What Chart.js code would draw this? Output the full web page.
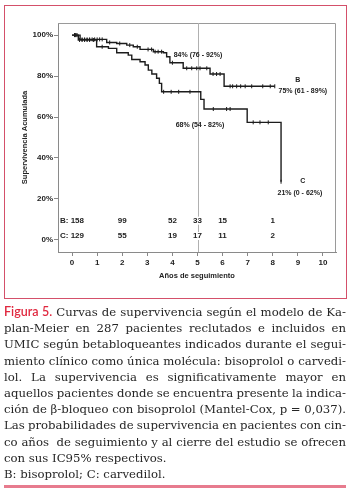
<!DOCTYPE html>
<html>
<head>
<meta charset="utf-8">
<script src="https://cdn.jsdelivr.net/npm/chart.js@4/dist/chart.umd.min.js"></script>
<style>
  body { margin: 0; background: #fff; width: 350px; height: 491px; position: relative; overflow: hidden; }
  #wrap { position: absolute; left: 0; top: 0; width: 350px; height: 300px; }
  #frame { position: absolute; left: 4px; top: 5px; width: 343px; height: 294px; box-sizing: border-box; border: 1.5px solid #d4506a; }
  #caption { position: absolute; left: 4px; top: 304px; width: 342px; font-family: "DejaVu Serif", serif; font-size: 11.7px; line-height: 16.2px; color: #262626; }
  #caption div { white-space: nowrap; }
  .fig { font-family: Lato, sans-serif; font-weight: 600; font-size: 12.5px; color: #e0283f; }
  #rule { position: absolute; left: 4px; top: 485px; width: 342px; height: 2.5px; background: #e77b8e; }
</style>
</head>
<body>
<div id="wrap"><canvas id="km"></canvas></div>
<div id="frame"></div>
<div id="caption">
  <div class="j"><span><span class="fig">Figura 5.</span> Curvas de supervivencia según el modelo de Ka-</span></div>
  <div class="j"><span>plan-Meier en 287 pacientes reclutados e incluidos en</span></div>
  <div class="j"><span>UMIC según betabloqueantes indicados durante el segui-</span></div>
  <div class="j"><span>miento clínico como única molécula: bisoprolol o carvedi-</span></div>
  <div class="j"><span>lol. La supervivencia es significativamente mayor en</span></div>
  <div class="j"><span>aquellos pacientes donde se encuentra presente la indica-</span></div>
  <div class="j"><span>ción de β-bloqueo con bisoprolol (Mantel-Cox, p = 0,037).</span></div>
  <div class="j"><span>Las probabilidades de supervivencia en pacientes con cin-</span></div>
  <div class="j"><span>co años&nbsp; de seguimiento y al cierre del estudio se ofrecen</span></div>
  <div><span>con sus IC95% respectivos.</span></div>
  <div><span>B: bisoprolol; C: carvedilol.</span></div>
</div>
<div id="rule"></div>
<script>
// Kaplan-Meier steps (years, % surviving)
const bTimes = [0, 0.32, 1.31, 1.38, 1.78, 2.18, 2.44, 2.71, 3.24, 3.64, 3.77, 3.9, 4.43, 5.5, 6.06, 8.08];
const bSurv = [100, 97.9, 97.9, 96.4, 95.9, 95.1, 94.3, 93, 91.9, 91.4, 89.4, 86.5, 83.8, 81, 75, 75];
const cTimes = [0, 0.25, 0.98, 1.45, 1.78, 2.24, 2.38, 2.71, 2.91, 3.04, 3.18, 3.37, 3.48, 3.57, 5.13, 5.26, 6.98, 8.33];
const cSurv = [100, 97.6, 94.3, 93.5, 91.4, 90.2, 88.1, 87, 85.4, 82.9, 81, 78.9, 76.4, 72.3, 68.6, 63.9, 57.4, 28.4];

// censored observations (years)
const bCensor = [0.1, 0.15, 0.2, 0.4, 0.5, 0.6, 0.7, 0.8, 0.9, 1.0, 1.1, 1.2, 1.5, 1.9, 2.3, 2.6,
  3.03, 3.17, 3.31, 3.43, 3.57, 4.0, 4.57, 4.77, 4.97, 5.1, 5.37, 5.62, 5.76, 5.9,
  6.3, 6.4, 6.56, 6.72, 6.9, 7.16, 7.6, 7.9, 8.08];
const cCensor = [0.1, 0.15, 0.3, 0.4, 0.5, 0.6, 0.7, 0.85, 1.2, 3.65, 3.95, 4.25, 4.7, 5.63, 6.16, 6.3, 7.22, 7.49, 7.82, 8.33];

// numbers at risk
const riskYears = [0, 2, 4, 5, 6, 8];
const riskB = [158, 99, 52, 33, 15, 1];
const riskC = [129, 55, 19, 17, 11, 2];

const xTicks = [0, 1, 2, 3, 4, 5, 6, 7, 8, 9, 10];
const yTicks = [0, 20, 40, 60, 80, 100];

function stepAt(times, surv, t) {
  let v = surv[0];
  for (let i = 0; i < times.length; i++) {
    if (times[i] <= t) v = surv[i];
  }
  return v;
}

const ink = '#1c1c1c';
const sans = '"Liberation Sans", Arial, sans-serif';

const extras = {
  id: 'extras',
  beforeDatasetsDraw(chart) {
    const { ctx, chartArea: a, scales } = chart;
    ctx.save();
    // box top & right
    ctx.strokeStyle = '#9a9a9a';
    ctx.lineWidth = 1;
    ctx.beginPath();
    ctx.moveTo(a.left, a.top + 0.5);
    ctx.lineTo(a.right - 0.5, a.top + 0.5);
    ctx.lineTo(a.right - 0.5, a.bottom);
    ctx.stroke();
    // reference line at 5 years
    const x5 = Math.round(scales.x.getPixelForValue(5)) + 0.5;
    ctx.strokeStyle = '#b0b0b0';
    ctx.beginPath();
    ctx.moveTo(x5, a.top);
    ctx.lineTo(x5, a.bottom);
    ctx.stroke();
    ctx.restore();
  },
  afterDatasetsDraw(chart) {
    const { ctx, scales } = chart;
    const sx = scales.x, sy = scales.y;
    ctx.save();
    ctx.fillStyle = '#222';
    ctx.textBaseline = 'middle';
    ctx.textAlign = 'center';
    ctx.font = 'bold 7px ' + sans;
    const notes = [
      ['84% (76 - 92%)', 5.02, 90.2],
      ['B', 9.0, 78],
      ['75% (61 - 89%)', 9.2, 72.7],
      ['68% (54 - 82%)', 5.1, 56.1],
      ['C', 9.2, 28.8],
      ['21% (0 - 62%)', 9.08, 22.9]
    ];
    notes.forEach(([t, x, y]) => ctx.fillText(t, sx.getPixelForValue(x), sy.getPixelForValue(y)));

    ctx.font = 'bold 8px ' + sans;
    const rows = [['B', riskB, 9.4], ['C', riskC, 1.9]];
    rows.forEach(([name, vals, yv]) => {
      const py = sy.getPixelForValue(yv);
      riskYears.forEach((yr, i) => {
        if (i === 0) {
          ctx.textAlign = 'left';
          ctx.fillText(name + ': ' + vals[i], sx.left + 2, py);
        } else {
          const px = sx.getPixelForValue(yr);
          const label = String(vals[i]);
          const w = ctx.measureText(label).width;
          ctx.fillStyle = '#fff';
          ctx.fillRect(px - w / 2 - 1, py - 4, w + 2, 8);
          ctx.fillStyle = '#222';
          ctx.textAlign = 'center';
          ctx.fillText(label, px, py);
        }
      });
    });
    ctx.restore();
  }
};

function curve(times, surv) {
  return times.map((t, i) => ({ x: t, y: surv[i] }));
}
function censorPts(list, times, surv) {
  return list.map((t) => ({ x: t, y: stepAt(times, surv, t) }));
}

const lineStyle = {
  type: 'line',
  stepped: 'before',
  borderColor: ink,
  borderWidth: 1.4,
  pointRadius: 0,
  fill: false
};
const tickStyle = {
  type: 'scatter',
  showLine: false,
  pointStyle: 'line',
  rotation: 90,
  pointRadius: 2,
  borderColor: ink,
  borderWidth: 1
};

const tickFont = { family: 'Liberation Sans', size: 8, weight: 'bold' };
const titleFont = { family: 'Liberation Sans', size: 7.5, weight: 'bold' };

new Chart(document.getElementById('km'), {
  data: {
    datasets: [
      { ...lineStyle, label: 'B', data: curve(bTimes, bSurv) },
      { ...lineStyle, label: 'C', data: curve(cTimes, cSurv) },
      { ...tickStyle, label: 'B cens', data: censorPts(bCensor, bTimes, bSurv) },
      { ...tickStyle, label: 'C cens', data: censorPts(cCensor, cTimes, cSurv) }
    ]
  },
  options: {
    responsive: true,
    maintainAspectRatio: false,
    animation: false,
    layout: { padding: { top: 23, right: 14, bottom: 0, left: 0 } },
    plugins: { legend: { display: false }, tooltip: { enabled: false } },
    scales: {
      x: {
        type: 'linear',
        min: -0.56,
        max: 10.52,
        afterBuildTicks: (s) => { s.ticks = xTicks.map((v) => ({ value: v })); },
        afterFit: (s) => { s.height = 48; },
        grid: { drawOnChartArea: false, tickLength: 4, tickColor: '#888' },
        border: { color: '#8a8a8a' },
        ticks: { color: '#222', font: tickFont, padding: 2, maxRotation: 0 },
        title: { display: true, text: 'Años de seguimiento', color: '#222', font: titleFont, padding: { bottom: 20 } }
      },
      y: {
        type: 'linear',
        min: -5.9,
        max: 105.9,
        afterBuildTicks: (s) => { s.ticks = yTicks.map((v) => ({ value: v })); },
        afterFit: (s) => { s.width = 58; },
        grid: { drawOnChartArea: false, tickLength: 4, tickColor: '#888' },
        border: { color: '#8a8a8a' },
        ticks: { color: '#222', font: tickFont, padding: 1, callback: (v) => v + '%' },
        title: { display: true, text: 'Supervivencia Acumulada', color: '#222', font: titleFont, padding: { top: 20 } }
      }
    }
  },
  plugins: [extras]
});

// justify caption lines to the frame width
document.querySelectorAll('#caption .j').forEach((line) => {
  const span = line.firstElementChild;
  const gaps = (span.textContent.match(/[ \u00a0]/g) || []).length;
  const w = span.getBoundingClientRect().width;
  line.style.wordSpacing = ((342 - w) / gaps) + 'px';
});
</script>
</body>
</html>
